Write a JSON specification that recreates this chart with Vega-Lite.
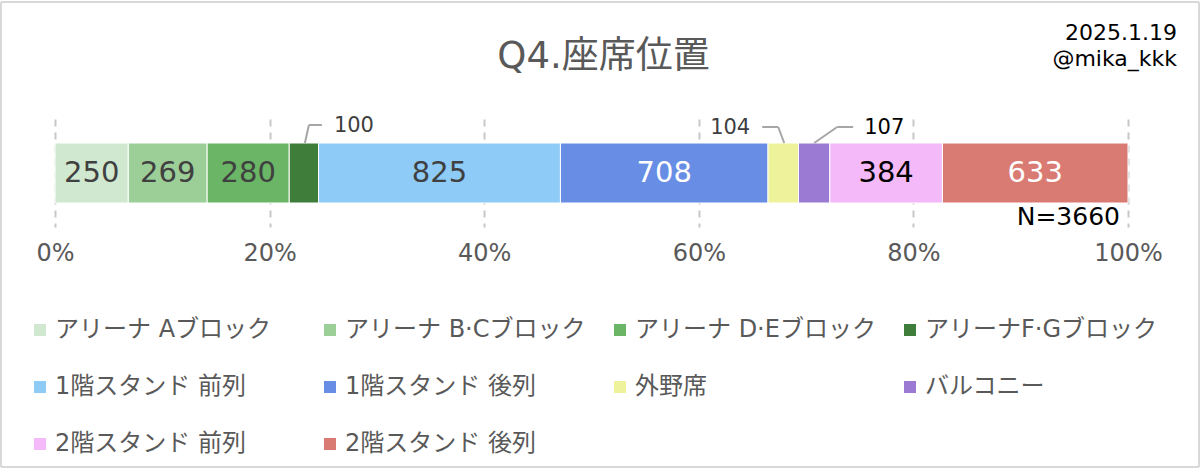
{
  "$schema": "https://vega.github.io/schema/vega-lite/v6.json",
  "width": 1073,
  "height": 108,
  "autosize": "none",
  "padding": {"left": 55, "top": 119, "right": 72, "bottom": 242},
  "background": "white",
  "data": {
    "values": [
      {"i": 1, "cat": "アリーナ Aブロック", "n": 250},
      {"i": 2, "cat": "アリーナ B·Cブロック", "n": 269},
      {"i": 3, "cat": "アリーナ D·Eブロック", "n": 280},
      {"i": 4, "cat": "アリーナF·Gブロック", "n": 100},
      {"i": 5, "cat": "1階スタンド 前列", "n": 825},
      {"i": 6, "cat": "1階スタンド 後列", "n": 708},
      {"i": 7, "cat": "外野席", "n": 104},
      {"i": 8, "cat": "バルコニー", "n": 107},
      {"i": 9, "cat": "2階スタンド 前列", "n": 384},
      {"i": 10, "cat": "2階スタンド 後列", "n": 633}
    ]
  },
  "transform": [
    {"stack": "n", "groupby": [], "sort": [{"field": "i", "order": "ascending"}], "offset": "normalize", "as": ["x0", "x1"]},
    {"calculate": "(datum.x0 + datum.x1) / 2", "as": "mid"}
  ],
  "layer": [
    {
      "mark": {"type": "bar", "stroke": "white", "strokeWidth": 1},
      "encoding": {
        "x": {
          "field": "x0", "type": "quantitative",
          "scale": {"domain": [0, 1], "nice": false},
          "axis": {
            "values": [0, 0.2, 0.4, 0.6, 0.8, 1],
            "format": ".0%",
            "title": null,
            "domain": false,
            "ticks": false,
            "labelFontSize": 24,
            "labelColor": "#595959",
            "labelPadding": 14,
            "grid": true,
            "gridColor": "#c8c8c8",
            "gridWidth": 2,
            "gridDash": [7, 6],
            "labelFlush": false
          }
        },
        "x2": {"field": "x1"},
        "y": {"datum": 24, "type": "quantitative", "scale": {"domain": [0, 108], "nice": false, "zero": true}, "axis": null},
        "y2": {"datum": 84},
        "color": {
          "field": "cat", "type": "nominal",
          "scale": {
            "domain": ["アリーナ Aブロック", "アリーナ B·Cブロック", "アリーナ D·Eブロック", "アリーナF·Gブロック", "1階スタンド 前列", "1階スタンド 後列", "外野席", "バルコニー", "2階スタンド 前列", "2階スタンド 後列"],
            "range": ["#d0e8cf", "#9ccf98", "#6ab566", "#3f7d3b", "#8ecbf7", "#678ee4", "#eef29b", "#9b7ad3", "#f3b9f8", "#d97b73"]
          },
          "legend": {
            "title": null,
            "orient": "none",
            "legendX": -27,
            "legendY": 199,
            "direction": "horizontal",
            "columns": 4,
            "gridAlign": "all",
            "columnPadding": 22,
            "rowPadding": 33,
            "symbolType": "square",
            "symbolSize": 144,
            "symbolStrokeWidth": 0,
            "labelOffset": 3,
            "labelFontSize": 24,
            "labelColor": "#595959",
            "labelLimit": 400,
            "padding": 0
          }
        }
      }
    },
    {
      "transform": [{"filter": "datum.n >= 200"}],
      "mark": {"type": "text", "fontSize": 29, "baseline": "middle"},
      "encoding": {
        "x": {"field": "mid", "type": "quantitative"},
        "y": {"datum": 54, "type": "quantitative"},
        "text": {"field": "n", "type": "quantitative"},
        "color": {
          "condition": [
            {"test": "datum.cat == '1階スタンド 後列' || datum.cat == '2階スタンド 後列'", "value": "white"},
            {"test": "datum.cat == '2階スタンド 前列'", "value": "black"}
          ],
          "value": "#404040"
        }
      }
    },
    {
      "transform": [{"filter": "datum.i == 4"}],
      "mark": {"type": "rule", "color": "#a6a6a6", "strokeWidth": 2, "xOffset": 1, "x2Offset": 5},
      "encoding": {
        "x": {"field": "mid", "type": "quantitative"},
        "x2": {"field": "mid"},
        "y": {"datum": 84, "type": "quantitative"},
        "y2": {"datum": 102}
      }
    },
    {
      "transform": [{"filter": "datum.i == 4"}],
      "mark": {"type": "rule", "color": "#a6a6a6", "strokeWidth": 2, "xOffset": 5, "x2Offset": 18},
      "encoding": {
        "x": {"field": "mid", "type": "quantitative"},
        "x2": {"field": "mid"},
        "y": {"datum": 102, "type": "quantitative"}
      }
    },
    {
      "transform": [{"filter": "datum.i == 4"}],
      "mark": {"type": "text", "fontSize": 21, "align": "left", "baseline": "middle", "dx": 30, "color": "#404040"},
      "encoding": {
        "x": {"field": "mid", "type": "quantitative"},
        "y": {"datum": 101, "type": "quantitative"},
        "text": {"field": "n", "type": "quantitative"}
      }
    },
    {
      "transform": [{"filter": "datum.i == 7"}],
      "mark": {"type": "rule", "color": "#a6a6a6", "strokeWidth": 2, "xOffset": 1, "x2Offset": -5},
      "encoding": {
        "x": {"field": "mid", "type": "quantitative"},
        "x2": {"field": "mid"},
        "y": {"datum": 84, "type": "quantitative"},
        "y2": {"datum": 100}
      }
    },
    {
      "transform": [{"filter": "datum.i == 7"}],
      "mark": {"type": "rule", "color": "#a6a6a6", "strokeWidth": 2, "xOffset": -5, "x2Offset": -21},
      "encoding": {
        "x": {"field": "mid", "type": "quantitative"},
        "x2": {"field": "mid"},
        "y": {"datum": 100, "type": "quantitative"}
      }
    },
    {
      "transform": [{"filter": "datum.i == 7"}],
      "mark": {"type": "text", "fontSize": 21, "align": "right", "baseline": "middle", "dx": -33, "color": "#404040"},
      "encoding": {
        "x": {"field": "mid", "type": "quantitative"},
        "y": {"datum": 99, "type": "quantitative"},
        "text": {"field": "n", "type": "quantitative"}
      }
    },
    {
      "transform": [{"filter": "datum.i == 8"}],
      "mark": {"type": "rule", "color": "#a6a6a6", "strokeWidth": 2, "xOffset": 0, "x2Offset": 23},
      "encoding": {
        "x": {"field": "mid", "type": "quantitative"},
        "x2": {"field": "mid"},
        "y": {"datum": 84, "type": "quantitative"},
        "y2": {"datum": 100}
      }
    },
    {
      "transform": [{"filter": "datum.i == 8"}],
      "mark": {"type": "rule", "color": "#a6a6a6", "strokeWidth": 2, "xOffset": 23, "x2Offset": 39},
      "encoding": {
        "x": {"field": "mid", "type": "quantitative"},
        "x2": {"field": "mid"},
        "y": {"datum": 100, "type": "quantitative"}
      }
    },
    {
      "transform": [{"filter": "datum.i == 8"}],
      "mark": {"type": "text", "fontSize": 21, "align": "left", "baseline": "middle", "dx": 50, "color": "black"},
      "encoding": {
        "x": {"field": "mid", "type": "quantitative"},
        "y": {"datum": 99, "type": "quantitative"},
        "text": {"field": "n", "type": "quantitative"}
      }
    },
    {
      "transform": [{"filter": "datum.i == 10"}],
      "mark": {"type": "text", "fontSize": 25, "align": "right", "baseline": "middle", "dx": -8, "color": "black", "text": "N=3660"},
      "encoding": {
        "x": {"datum": 1, "type": "quantitative"},
        "y": {"datum": 10, "type": "quantitative"}
      }
    },
    {
      "transform": [{"filter": "datum.i == 10"}],
      "mark": {"type": "text", "fontSize": 22, "align": "right", "baseline": "middle", "dx": 49, "lineHeight": 26, "lineBreak": "\n", "color": "black", "text": "2025.1.19\n@mika_kkk"},
      "encoding": {
        "x": {"datum": 1, "type": "quantitative"},
        "y": {"datum": 194, "type": "quantitative"}
      }
    },
    {
      "transform": [{"filter": "datum.i == 10"}],
      "mark": {"type": "text", "fontSize": 37, "align": "center", "baseline": "middle", "dx": 12, "color": "#595959", "text": "Q4.座席位置"},
      "encoding": {
        "x": {"datum": 0.5, "type": "quantitative"},
        "y": {"datum": 170, "type": "quantitative"}
      }
    },
    {
      "transform": [{"filter": "datum.i == 10"}],
      "mark": {"type": "rule", "color": "#d9d9d9", "strokeWidth": 2, "xOffset": -54, "x2Offset": 71, "yOffset": -117},
      "encoding": {
        "x": {"datum": 0, "type": "quantitative"},
        "x2": {"datum": 1},
        "y": {"datum": 108, "type": "quantitative"}
      }
    },
    {
      "transform": [{"filter": "datum.i == 10"}],
      "mark": {"type": "rule", "color": "#d9d9d9", "strokeWidth": 2, "xOffset": -54, "x2Offset": 71, "yOffset": 240},
      "encoding": {
        "x": {"datum": 0, "type": "quantitative"},
        "x2": {"datum": 1},
        "y": {"datum": 0, "type": "quantitative"}
      }
    },
    {
      "transform": [{"filter": "datum.i == 10"}],
      "mark": {"type": "rule", "color": "#d9d9d9", "strokeWidth": 2, "xOffset": -54, "yOffset": 240, "y2Offset": -117},
      "encoding": {
        "x": {"datum": 0, "type": "quantitative"},
        "y": {"datum": 0, "type": "quantitative"},
        "y2": {"datum": 108}
      }
    },
    {
      "transform": [{"filter": "datum.i == 10"}],
      "mark": {"type": "rule", "color": "#d9d9d9", "strokeWidth": 2, "xOffset": 71, "yOffset": 240, "y2Offset": -117},
      "encoding": {
        "x": {"datum": 1, "type": "quantitative"},
        "y": {"datum": 0, "type": "quantitative"},
        "y2": {"datum": 108}
      }
    }
  ],
  "config": {
    "font": "DejaVu Sans, Noto Sans CJK JP, sans-serif",
    "view": {"stroke": null}
  }
}
